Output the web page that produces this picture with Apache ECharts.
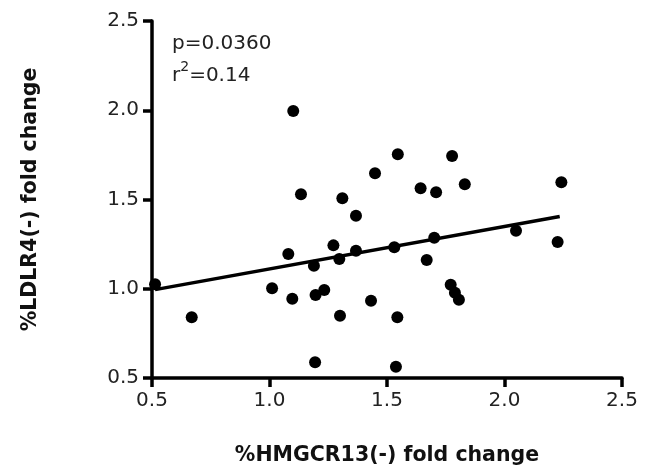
<!DOCTYPE html>
<html>
<head>
<meta charset="utf-8">
<script src="https://cdn.jsdelivr.net/npm/echarts@6/dist/echarts.min.js"></script>
<style>html,body{margin:0;padding:0;background:#fff}#c{width:648px;height:467px}</style>
</head>
<body>
<div id="c"></div>
<script>
// HMGCR13(-) fold change (x) vs LDLR4(-) fold change (y)
const hmgcr = [1.101,1.449,1.134,1.310,1.546,1.777,1.643,1.709,1.831,2.242,
               0.513,0.669,1.080,1.011,1.097,1.368,1.272,1.297,1.368,1.189,
               1.196,1.233,1.300,1.432,1.194,1.531,1.701,1.669,2.049,2.226,
               1.771,1.789,1.806,1.544,1.538];
const ldlr  = [1.996,1.647,1.529,1.507,1.753,1.744,1.563,1.540,1.585,1.596,
               1.025,0.840,1.195,1.003,0.944,1.409,1.243,1.167,1.213,1.129,
               0.965,0.993,0.849,0.933,0.588,1.232,1.286,1.161,1.325,1.262,
               1.022,0.977,0.938,0.840,0.563];
// regression line end points
const fitX = [0.513, 2.235];
const fitY = [0.995, 1.405];
const xTicks = [0.5, 1.0, 1.5, 2.0, 2.5];
const yTicks = [0.5, 1.0, 1.5, 2.0, 2.5];
const pText = 'p=0.0360';
const r2Text = '0.14';

const pts = hmgcr.map((x, i) => [x, ldlr[i]]);
const fit = fitX.map((x, i) => [x, fitY[i]]);

const chart = echarts.init(document.getElementById('c'));
const axisCommon = {
  min: xTicks[0], max: xTicks[xTicks.length - 1], interval: 0.5,
  axisLine: {show: true, onZero: false, lineStyle: {color: '#000', width: 3.5}},
  axisTick: {show: true, inside: false, length: 9, lineStyle: {color: '#000', width: 3.5}},
  splitLine: {show: false},
  axisLabel: {color: '#222', fontFamily: 'DejaVu Sans', fontSize: 20,
              formatter: v => v.toFixed(1)},
  nameTextStyle: {color: '#111', fontFamily: 'DejaVu Sans', fontWeight: 'bold', fontSize: 20.5}
};
chart.setOption({
  animation: false,
  backgroundColor: '#fff',
  grid: {left: 152, right: 26, top: 21, bottom: 89, containLabel: false, outerBoundsMode: 'none'},
  xAxis: Object.assign({}, axisCommon, {
    type: 'value', name: '%HMGCR13(-) fold change', nameLocation: 'middle', nameGap: 67,
    axisLabel: Object.assign({}, axisCommon.axisLabel, {margin: 13})
  }),
  yAxis: Object.assign({}, axisCommon, {
    type: 'value', min: yTicks[0], max: yTicks[yTicks.length - 1],
    name: '%LDLR4(-) fold change', nameLocation: 'middle', nameGap: 111,
    axisLabel: Object.assign({}, axisCommon.axisLabel, {margin: 13})
  }),
  series: [
    {type: 'scatter', data: pts, symbol: 'circle', symbolSize: 12,
     itemStyle: {color: '#000', opacity: 1}, z: 3},
    {type: 'line', data: fit, showSymbol: false, symbol: 'none',
     lineStyle: {color: '#000', width: 3.5}, z: 2}
  ],
  graphic: [
    {type: 'text', left: 172, top: 34,
     style: {text: pText, font: '20px "DejaVu Sans"', fill: '#222'}},
    {type: 'text', left: 172, top: 60,
     style: {
       text: '{a|r}{s|2}{a|=' + r2Text + '}',
       rich: {
         a: {font: '20px "DejaVu Sans"', fill: '#222', color: '#222', verticalAlign: 'bottom', lineHeight: 26},
         s: {font: '14px "DejaVu Sans"', fill: '#222', color: '#222', verticalAlign: 'top', lineHeight: 26, padding: [0, 0, 9, 0]}
       }
     }}
  ]
});
</script>
</body>
</html>
